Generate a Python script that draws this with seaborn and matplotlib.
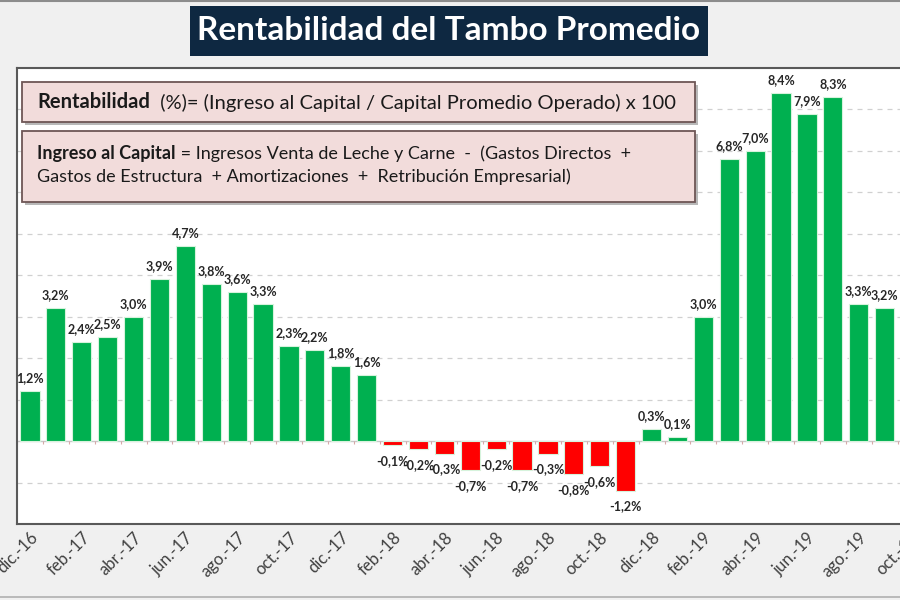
import matplotlib
matplotlib.use('Agg')
import matplotlib.pyplot as plt
import seaborn as sns
import pandas as pd
import numpy as np
from matplotlib.patches import Rectangle, FancyBboxPatch
from matplotlib.lines import Line2D
import matplotlib.patheffects as pe

# ---- data ----
months = ['dic.-16', 'ene.-17', 'feb.-17', 'mar.-17', 'abr.-17', 'may.-17', 'jun.-17',
          'jul.-17', 'ago.-17', 'sep.-17', 'oct.-17', 'nov.-17', 'dic.-17', 'ene.-18',
          'feb.-18', 'mar.-18', 'abr.-18', 'may.-18', 'jun.-18', 'jul.-18', 'ago.-18',
          'sep.-18', 'oct.-18', 'nov.-18', 'dic.-18', 'ene.-19', 'feb.-19', 'mar.-19',
          'abr.-19', 'may.-19', 'jun.-19', 'jul.-19', 'ago.-19', 'sep.-19']
values = [1.2, 3.2, 2.4, 2.5, 3.0, 3.9, 4.7, 3.8, 3.6, 3.3, 2.3, 2.2, 1.8, 1.6,
          -0.1, -0.2, -0.3, -0.7, -0.2, -0.7, -0.3, -0.8, -0.6, -1.2,
          0.3, 0.1, 3.0, 6.8, 7.0, 8.4, 7.9, 8.3, 3.3, 3.2]
tick_labels = ['dic.-16', 'feb.-17', 'abr.-17', 'jun.-17', 'ago.-17', 'oct.-17', 'dic.-17',
               'feb.-18', 'abr.-18', 'jun.-18', 'ago.-18', 'oct.-18', 'dic.-18', 'feb.-19',
               'abr.-19', 'jun.-19', 'ago.-19', 'oct.-19']
title = 'Rentabilidad del Tambo Promedio'
box1_bold = 'Rentabilidad'
box1_rest = '  (%)= (Ingreso al Capital / Capital Promedio Operado) x 100'
box2_bold = 'Ingreso al Capital'
box2_rest = ' = Ingresos Venta de Leche y Carne  -  (Gastos Directos  +'
box2_line2 = 'Gastos de Estructura  + Amortizaciones  +  Retribución Empresarial)'

sns.set_theme(style='white')
plt.rcParams['font.family'] = ['Lato', 'DejaVu Sans']

W, H = 900, 600
fig = plt.figure(figsize=(9, 6), dpi=100, facecolor='#f0f0f0')
ax = fig.add_axes([17 / W, 76 / H, 906.5 / W, 456 / H])
ax.set_facecolor('white')

df = pd.DataFrame({'mes': months, 'val': values,
                   'signo': ['pos' if v >= 0 else 'neg' for v in values]})
sns.barplot(data=df, x='mes', y='val', hue='signo',
            palette={'pos': '#00b050', 'neg': '#ff0000'}, dodge=False, saturation=1,
            width=0.74, legend=False, ax=ax, edgecolor='#d6f3dc', linewidth=0.8,
            zorder=3)

ax.set_xlim(-0.5, 34.5)
ax.set_ylim(-2, 9)
ax.set_xticks(range(0, 2 * len(tick_labels), 2))
ax.set_xticklabels(tick_labels, rotation=45, ha='right', rotation_mode='anchor',
                   fontsize=12, color='#404040')
ax.tick_params(axis='x', length=0, pad=4)
ax.set_xlabel('')
ax.set_ylabel('')
ax.set_yticks([-1, 1, 2, 3, 4, 5, 6, 7, 8])
ax.set_yticklabels([])
ax.tick_params(axis='y', length=0)
ax.grid(axis='y', color='#d0d0d0', lw=0.9, ls=(0, (4, 4)))
ax.set_axisbelow(True)
for s in ax.spines.values():
    s.set_color('#595959')
    s.set_linewidth(1.5)

ax.axhline(0, color='#c8c8c8', lw=1, zorder=2)
ax.vlines(np.arange(len(values) + 1) - 0.5, -0.08, 0.0, color='#d8a8a8', lw=0.8, zorder=2)

for i, v in enumerate(values):
    lbl = f'{v:.1f}'.replace('.', ',') + '%'
    ax.annotate(lbl, (i, v), xytext=(0, 5 if v >= 0 else -7), textcoords='offset points',
                ha='center', va='bottom' if v >= 0 else 'top', fontsize=9,
                fontweight='bold', color='#262626', zorder=4)

# ---- title box ----
fig.add_artist(Rectangle((190 / W, 1 - 56 / H), 518 / W, 50 / H, transform=fig.transFigure,
                         facecolor='#0e2841', edgecolor='none', zorder=5))
fig.text(449 / W, 1 - 31 / H, title, color='white', fontsize=24, fontweight='bold',
         ha='center', va='center', zorder=6)

# ---- pink info boxes ----
shadow = [pe.SimplePatchShadow(offset=(2.5, -2.5), shadow_rgbFace='#8a8a8a', alpha=0.6), pe.Normal()]
for (x0, y0, x1, y1) in [(22, 82, 695, 122), (22, 131, 695, 202)]:
    fig.add_artist(FancyBboxPatch((x0 / W, 1 - y1 / H), (x1 - x0) / W, (y1 - y0) / H,
                                  boxstyle='square,pad=0', transform=fig.transFigure,
                                  facecolor='#f2dcdb', edgecolor='#6e5656', lw=1.3,
                                  zorder=5, path_effects=shadow))

t1 = fig.text(37 / W, 1 - 102 / H, box1_bold, fontsize=14.5, fontweight='bold',
              color='#1a1a1a', ha='left', va='center', zorder=6)
fig.add_artist(matplotlib.text.Annotation(box1_rest, xy=(1, 0), xycoords=t1, va='bottom',
                                          ha='left', fontsize=14.5, color='#1a1a1a', zorder=6))
t2 = fig.text(37 / W, 1 - 154 / H, box2_bold, fontsize=13, fontweight='bold',
              color='#1a1a1a', ha='left', va='center', zorder=6)
fig.add_artist(matplotlib.text.Annotation(box2_rest, xy=(1, 0), xycoords=t2, va='bottom',
                                          ha='left', fontsize=13, color='#1a1a1a', zorder=6))
fig.text(37 / W, 1 - 177 / H, box2_line2, fontsize=13, color='#1a1a1a',
         ha='left', va='center', zorder=6)

# frame lines of screenshot
fig.add_artist(Line2D([0, 1], [1 - 1 / H] * 2, transform=fig.transFigure, color='#8c8c8c', lw=1.5))
fig.add_artist(Line2D([0, 1], [3 / H] * 2, transform=fig.transFigure, color='#b0b0b0', lw=1.2))

fig.savefig('out.png', dpi=100, facecolor=fig.get_facecolor())
